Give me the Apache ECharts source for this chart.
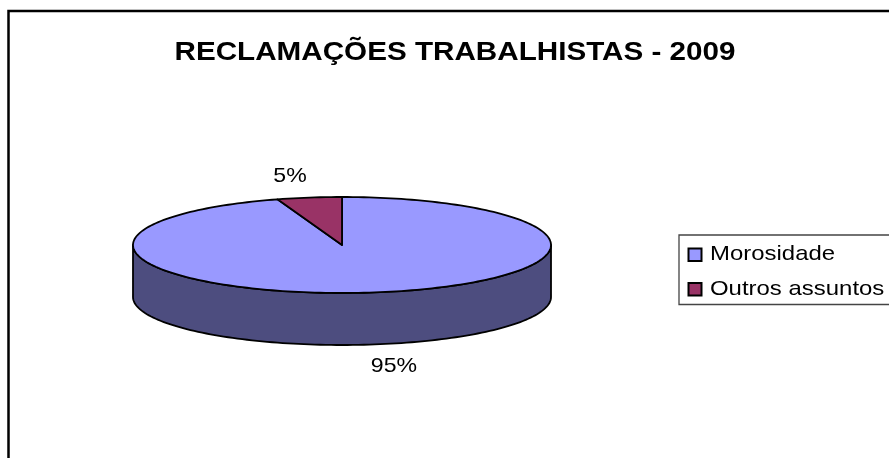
<!DOCTYPE html>
<html>
<head>
<meta charset="utf-8">
<style>html,body{margin:0;padding:0;background:#fff}#c{width:889px;height:458px}</style>
<script src="https://cdn.jsdelivr.net/npm/echarts@6/dist/echarts.min.js"></script>
</head>
<body>
<div id="c"></div>
<script>
const chartTitle = 'RECLAMAÇÕES TRABALHISTAS - 2009';
const categories = ['Morosidade', 'Outros assuntos'];
const values = [95, 5];
const topColors = ['#9999FF', '#993366'];
const sideColors = ['#4D4D7F', '#4D1A33'];

const FONT = '"Liberation Sans", Arial, sans-serif';
const cx = 342, cy = 245, rx = 209, ry = 48, depth = 52;
const total = values.reduce((a, b) => a + b, 0);

function pt(deg, dy) {
  const r = deg * Math.PI / 180;
  return [cx + rx * Math.sin(r), cy - ry * Math.cos(r) + (dy || 0)];
}
function arc(a, b, dy) {
  const out = [], n = Math.max(2, Math.ceil(Math.abs(b - a) / 1.5));
  for (let i = 0; i <= n; i++) out.push(pt(a + (b - a) * i / n, dy));
  return out;
}

function renderItem(params, api) {
  const i = params.dataIndex;
  const v = api.value(0);
  let before = 0;
  for (let k = 0; k < i; k++) before += values[k];
  const a0 = before / total * 360, a1 = (before + v) / total * 360;
  const children = [];
  const s0 = Math.max(a0, 90), s1 = Math.min(a1, 270);
  const line = { stroke: '#000', lineWidth: 1.8, lineJoin: 'round' };
  if (s1 > s0) {
    children.push({
      type: 'polygon',
      shape: { points: arc(s0, s1, 0).concat(arc(s1, s0, depth)) },
      style: Object.assign({ fill: sideColors[i] }, line)
    });
  }
  children.push({
    type: 'polygon',
    shape: { points: [[cx, cy]].concat(arc(a0, a1, 0)) },
    style: Object.assign({ fill: topColors[i] }, line)
  });
  const mid = (a0 + a1) / 2 * Math.PI / 180;
  const front = Math.cos(mid) < 0;
  children.push({
    type: 'text',
    x: cx + rx * 1.59 * Math.sin(mid),
    y: cy - ry * 1.45 * Math.cos(mid) + (front ? depth : 0),
    scaleX: 1.1,
    style: {
      text: Math.round(v / total * 100) + '%',
      font: '21px ' + FONT, fill: '#000', align: 'center', verticalAlign: 'middle'
    }
  });
  return { type: 'group', children };
}

const legendItems = [];
categories.forEach((name, i) => {
  const y = 254.5 + i * 34.5;
  legendItems.push({
    type: 'rect', shape: { x: 688.5, y: y - 6, width: 13, height: 12.5 },
    style: { fill: topColors[i], stroke: '#000', lineWidth: 2 }
  });
  legendItems.push({
    type: 'text', x: 710, y: y, scaleX: 1.14,
    style: { text: name, font: '21px ' + FONT, fill: '#000', align: 'left', verticalAlign: 'middle' }
  });
});

const chart = echarts.init(document.getElementById('c'), null, { renderer: 'canvas' });
chart.setOption({
  animation: false,
  backgroundColor: '#fff',
  graphic: [
    { type: 'rect', shape: { x: 8.5, y: 11, width: 900, height: 480 },
      style: { fill: 'none', stroke: '#000', lineWidth: 2.5 } },
    { type: 'text', x: 455, y: 53, scaleX: 1.14,
      style: { text: chartTitle, font: 'bold 26px ' + FONT, fill: '#000', align: 'center', verticalAlign: 'middle' } },
    { type: 'rect', shape: { x: 679, y: 235, width: 240, height: 69.5 },
      style: { fill: '#fff', stroke: '#444', lineWidth: 1.3 } }
  ].concat(legendItems),
  series: [{
    type: 'custom',
    coordinateSystem: 'none',
    silent: true,
    clip: false,
    data: values.map((v, i) => ({ name: categories[i], value: [v] })),
    renderItem
  }]
});
</script>
</body>
</html>
